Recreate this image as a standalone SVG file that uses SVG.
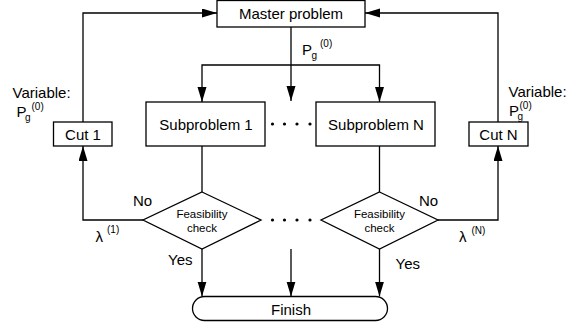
<svg xmlns="http://www.w3.org/2000/svg" width="569" height="331" viewBox="0 0 569 331">
<style>
  .box { fill: #ffffff; stroke: #000000; stroke-width: 1.3; }
  .ln { fill: none; stroke: #000000; stroke-width: 1.3; }
  .t { font-family: "Liberation Sans", Arial, sans-serif; font-size: 15px; fill: #000000; }
  .c { text-anchor: middle; }
  .s { font-family: "Liberation Sans", Arial, sans-serif; font-size: 11.5px; fill: #000000; text-anchor: middle; }
  .sup { font-family: "Liberation Sans", Arial, sans-serif; font-size: 10px; fill: #000000; }
  .dot { fill: #000000; }
</style>
<defs>
  <marker id="arr" markerUnits="userSpaceOnUse" markerWidth="16" markerHeight="10" refX="15" refY="4.5" orient="auto">
    <path d="M0,0 L15,4.5 L0,9 Z" fill="#000000"/>
  </marker>
</defs>
<rect width="569" height="331" fill="#ffffff"/>

<g id="connectors">
  <path class="ln" d="M83,122 V13 H217" marker-end="url(#arr)"/>
  <path class="ln" d="M498,122 V13 H365" marker-end="url(#arr)"/>
  <path class="ln" d="M291,27 V101" marker-end="url(#arr)"/>
  <path class="ln" d="M291,65 H202 V102" marker-end="url(#arr)"/>
  <path class="ln" d="M291,65 H379.5 V102" marker-end="url(#arr)"/>
  <path class="ln" d="M202,146 V192"/>
  <path class="ln" d="M379.5,146 V192"/>
  <path class="ln" d="M143,220 H83 V146" marker-end="url(#arr)"/>
  <path class="ln" d="M438,220 H498 V146" marker-end="url(#arr)"/>
  <path class="ln" d="M202,249 V296.5" marker-end="url(#arr)"/>
  <path class="ln" d="M379.5,249 V296.5" marker-end="url(#arr)"/>
  <path class="ln" d="M291,249 V296.5" marker-end="url(#arr)"/>
</g>

<g id="master">
  <rect class="box" x="217" y="0.5" width="148" height="26.5"/>
  <text class="t c" x="291" y="18.5">Master problem</text>
</g>

<g id="pg-label">
  <text class="t" x="302" y="54.5">P</text>
  <text class="sup" x="311.5" y="58.5">g</text>
  <text class="sup" x="320" y="47">(0)</text>
</g>

<g id="sub1">
  <rect class="box" x="146" y="102" width="119" height="44"/>
  <text class="t c" x="206" y="129.5">Subproblem 1</text>
</g>

<g id="subN">
  <rect class="box" x="316" y="102" width="119" height="44"/>
  <text class="t c" x="376" y="129.5">Subproblem N</text>
</g>

<g id="dots-top">
  <circle class="dot" cx="272.5" cy="124" r="1.6"/>
  <circle class="dot" cx="284.5" cy="124" r="1.6"/>
  <circle class="dot" cx="297" cy="124" r="1.6"/>
  <circle class="dot" cx="310" cy="124" r="1.6"/>
</g>

<g id="cut1">
  <rect class="box" x="53.5" y="122" width="58.5" height="24"/>
  <text class="t c" x="83" y="139.5">Cut 1</text>
</g>

<g id="cutN">
  <rect class="box" x="469" y="122" width="59" height="24"/>
  <text class="t c" x="498.5" y="139.5">Cut N</text>
</g>

<g id="var-left">
  <text class="t" x="12.5" y="97.5">Variable:</text>
  <text class="t" x="16.5" y="117">P</text>
  <text class="sup" x="25" y="120.5">g</text>
  <text class="sup" x="31.5" y="110">(0)</text>
</g>

<g id="var-right">
  <text class="t" x="508.5" y="97">Variable:</text>
  <text class="t" x="509" y="116">P</text>
  <text class="sup" x="517.5" y="119.5">g</text>
  <text class="sup" x="519.5" y="109">(0)</text>
</g>

<g id="check1">
  <polygon class="box" points="202,192 261,220 202,249 143,220"/>
  <text class="s" x="202" y="217.5">Feasibility</text>
  <text class="s" x="202" y="232">check</text>
</g>

<g id="checkN">
  <polygon class="box" points="379.5,192 438,220 379.5,249 321,220"/>
  <text class="s" x="379.5" y="217.5">Feasibility</text>
  <text class="s" x="379.5" y="232">check</text>
</g>

<g id="dots-bottom">
  <circle class="dot" cx="272.5" cy="220" r="1.6"/>
  <circle class="dot" cx="284.5" cy="220" r="1.6"/>
  <circle class="dot" cx="297" cy="220" r="1.6"/>
  <circle class="dot" cx="310" cy="220" r="1.6"/>
</g>

<g id="labels">
  <text class="t" x="133" y="206">No</text>
  <text class="t" x="419" y="206">No</text>
  <text class="t" x="168" y="265">Yes</text>
  <text class="t" x="395.5" y="269">Yes</text>
  <text class="t" x="95.5" y="241.5">λ</text>
  <text class="sup" x="107" y="233">(1)</text>
  <text class="t" x="459" y="241.5">λ</text>
  <text class="sup" x="471.5" y="233.5">(N)</text>
</g>

<g id="finish">
  <rect class="box" x="192.5" y="296.5" width="195" height="24" rx="12" ry="12"/>
  <text class="t c" x="291" y="314.5">Finish</text>
</g>
</svg>
